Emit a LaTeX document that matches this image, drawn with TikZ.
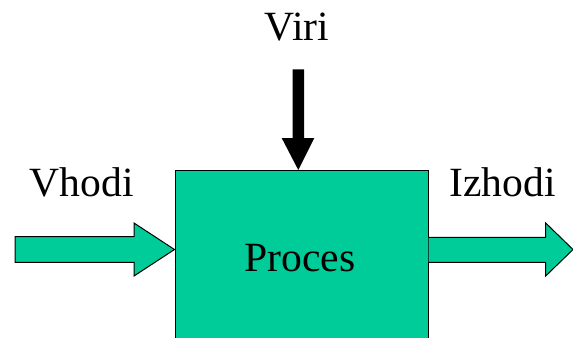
\documentclass[tikz,border=0pt]{standalone}
\usepackage{fontspec}
\setmainfont{Liberation Serif}
\begin{document}
\begin{tikzpicture}[x=0.75pt,y=-0.75pt,
  procfill/.style={fill={rgb,255:red,0;green,204;blue,153}, draw=black, line width=0.75pt},
  label/.style={anchor=base west, inner sep=0pt, font=\fontsize{31.2}{36}\selectfont},
  blockarrow/.style={procfill, line join=miter}]
  \useasboundingbox (0,0) rectangle (573,337);
  \clip (0,0) rectangle (573,337);

  % process box (runs past the lower edge)
  \node[procfill, minimum width=253pt*0.75, minimum height=180*0.75pt, inner sep=0pt, anchor=north west] (proc) at (174.5,170) {};

  % input and output block arrows
  \draw[blockarrow] (15,236.7) -- (134,236.7) -- (134,223) -- (proc.west |- 0,249.5) -- (134,276) -- (134,262.3) -- (15,262.3) -- cycle;
  \draw[blockarrow] (proc.east |- 0,237.3) -- (545.7,237.3) -- (545.7,223) -- (573,249.5) -- (545.7,276) -- (545.7,262.3) -- (proc.east |- 0,262.3);

  % resources arrow
  \fill[black] (292.7,69.3) -- (304,69.3) -- (304,138) -- (314.3,138) -- (proc.north -| 298.3,0) -- (281.7,138) -- (292.7,138) -- cycle;

  % labels
  \node[label] (viri) at (264.5,40) {Viri};
  \node[label] (vhodi) at (29.5,196.7) {Vhodi};
  \node[label] (izhodi) at (449.3,196.7) {Izhodi};
  \node[label] (proces) at (244.3,271.7) {Proces};
\end{tikzpicture}
\end{document}
